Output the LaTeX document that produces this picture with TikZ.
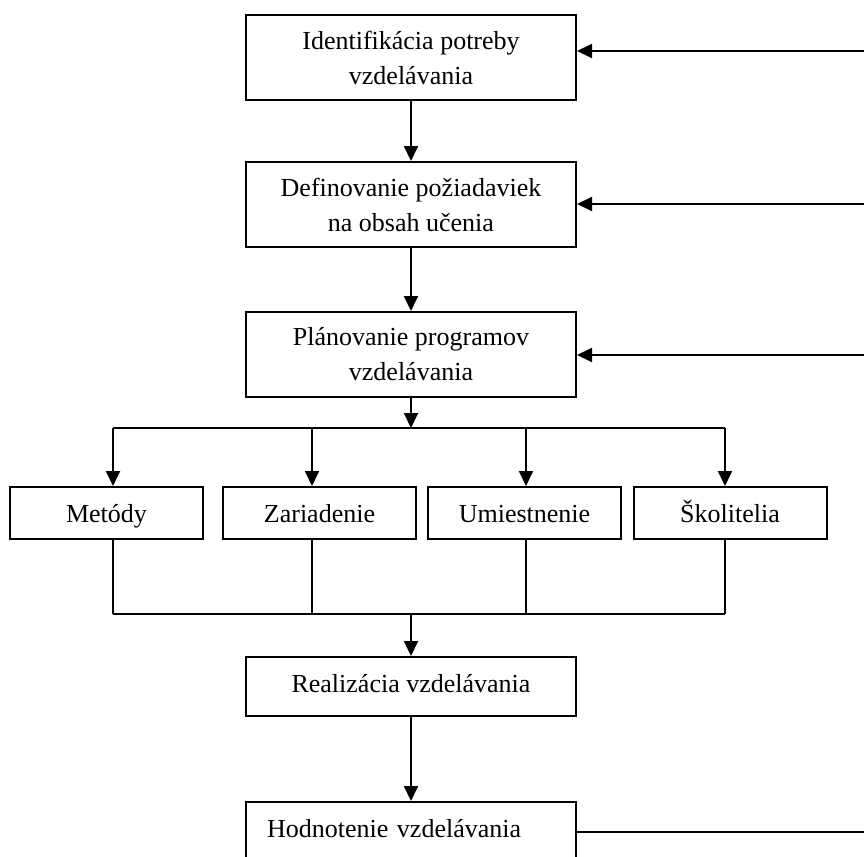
\documentclass[tikz,border=0pt]{standalone}
\usepackage{fontspec}
\setmainfont{Liberation Serif}
\usetikzlibrary{positioning,arrows.meta}
\tikzset{
  block/.style={draw, line width=1pt, minimum width=165pt, minimum height=42.5pt, inner sep=0pt, align=center, font=\fontsize{13}{17.5}\selectfont},
  blockSub/.style={block, minimum width=96.5pt, minimum height=26pt, text height=11pt, text depth=2pt},
  arrow/.style={-{Triangle[length=7.5pt, width=7pt]}, line width=1pt},
  link/.style={line width=1pt}
}
\begin{document}
\begin{tikzpicture}[x=0.5pt, y=-0.5pt]
  \clip (0,0) rectangle (864,857);
  % main chain
  \node[block] (ident) at (411,57.5) {Identifikácia potreby\\vzdelávania};
  \node[block] (defin) at (411,204.5) {Definovanie požiadaviek\\na obsah učenia};
  \node[block] (plan) at (411,354.5) {Plánovanie programov\\vzdelávania};
  % resources
  \node[blockSub] (metody) at (106.5,513) {Metódy};
  \node[blockSub] (zariad) at (319.5,513) {Zariadenie};
  \node[blockSub] (umiest) at (524.5,513) {Umiestnenie};
  \node[blockSub] (skolit) at (730,513) {Školitelia};
  \node[block, minimum height=29.5pt, text height=9pt, text depth=3.5pt] (realiz) at (411,686.5) {Realizácia vzdelávania};
  \node[block, minimum height=30pt, text height=9pt, text depth=3.5pt, text width=144pt, inner xsep=10.5pt, align=left] (hodn) at (411,832) {Hodnotenie vzdelávania};

  \draw[arrow] (ident) -- (defin);
  \draw[arrow] (defin) -- (plan);

  % distribution bus
  \coordinate (busTop) at (411,428);
  \coordinate (busLow) at (411,614);
  \coordinate (tapA) at (113,428);
  \coordinate (tapB) at (312,428);
  \coordinate (tapC) at (526,428);
  \coordinate (tapD) at (725,428);
  \draw[arrow] (plan) -- (busTop);
  \draw[link] (tapA) -- (tapD);
  \foreach \tap/\res in {tapA/metody, tapB/zariad, tapC/umiest, tapD/skolit}{
    \draw[arrow] (\tap) -- (\tap |- \res.north);
    \draw[link] (\tap |- \res.south) -- (\tap |- busLow);
  }
  \draw[link] (tapA |- busLow) -- (tapD |- busLow);
  \draw[arrow] (busLow) -- (realiz);
  \draw[arrow] (realiz) -- (hodn);

  % feedback from the right
  \coordinate (backA) at (864,51);
  \coordinate (backB) at (864,204);
  \coordinate (backC) at (864,355);
  \coordinate (backD) at (864,832);
  \draw[arrow] (backA) -- (backA -| ident.east);
  \draw[arrow] (backB) -- (backB -| defin.east);
  \draw[arrow] (backC) -- (backC -| plan.east);
  \draw[link] (hodn.east) -- (backD);
\end{tikzpicture}
\end{document}
